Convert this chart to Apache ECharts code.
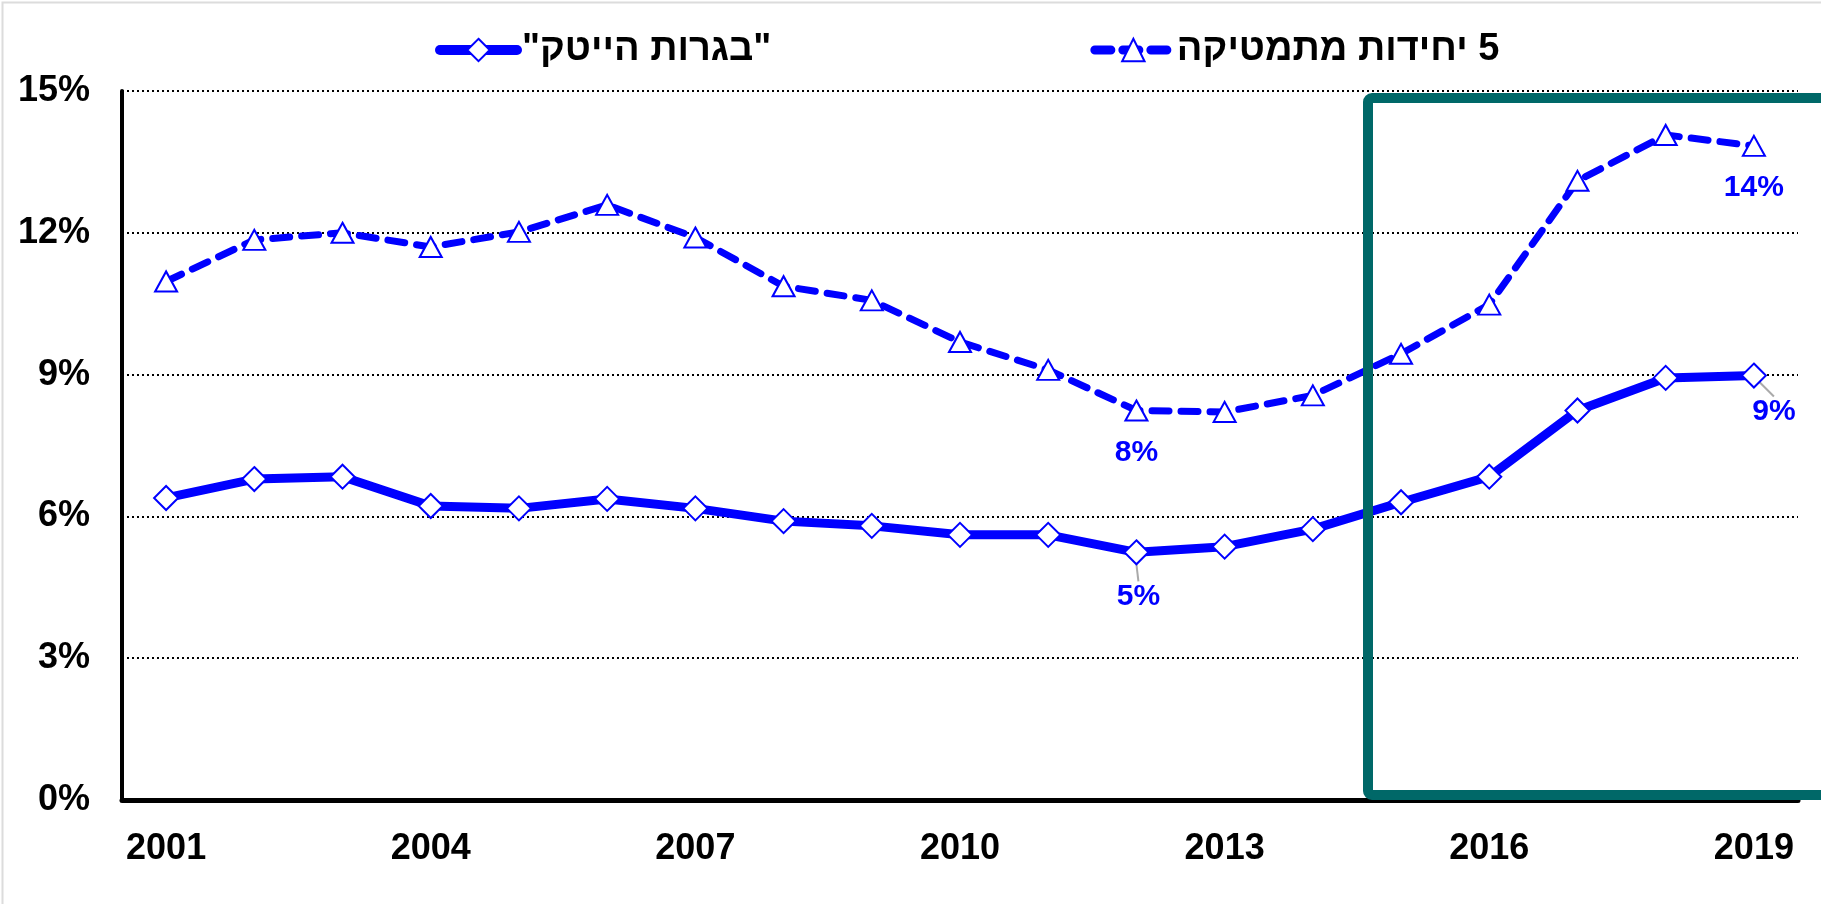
<!DOCTYPE html>
<html>
<head>
<meta charset="utf-8">
<script src="https://cdn.jsdelivr.net/npm/echarts@6/dist/echarts.min.js"></script>
<style>
  html, body { margin: 0; padding: 0; background: #fff; }
  #chart { width: 1821px; height: 904px; }
</style>
</head>
<body>
<div id="chart"></div>
<script>
  const years = ['2001', '2002', '2003', '2004', '2005', '2006', '2007', '2008', '2009', '2010',
    '2011', '2012', '2013', '2014', '2015', '2016', '2017', '2018', '2019'];
  // "בגרות הייטק" (solid, diamonds)
  const hitech = [6.39, 6.79, 6.84, 6.22, 6.17, 6.37, 6.17, 5.9, 5.8, 5.61,
    5.61, 5.24, 5.36, 5.73, 6.3, 6.84, 8.24, 8.93, 8.98];
  // 5 יחידות מתמטיקה (dashed, triangles)
  const math5 = [10.97, 11.85, 12.0, 11.7, 12.02, 12.59, 11.9, 10.87, 10.57, 9.69,
    9.1, 8.24, 8.21, 8.56, 9.44, 10.48, 13.1, 14.07, 13.84];
  const yTicks = [0, 3, 6, 9, 12, 15];
  // labelled points (by year)
  const hitechLabels = { '2012': '5%', '2019': '9%' };
  const mathLabels = { '2012': '8%', '2019': '14%' };

  const nameHitech = '\u202B"בגרות הייטק"\u202C';
  const nameMath = '\u202B5 יחידות מתמטיקה\u202C';

  const blue = '#0000FF';
  const font = 'Arial, "Liberation Sans", sans-serif';

  const labelStyle = {
    color: blue,
    fontSize: 30,
    fontWeight: 'bold',
    fontFamily: font
  };

  const toData = function (values, labels) {
    return values.map((v, i) => {
      const txt = labels[years[i]];
      if (!txt) {
        return v;
      }
      return { value: v, label: Object.assign({ show: true, formatter: txt }, labelStyle) };
    });
  };

  const chart = echarts.init(document.getElementById('chart'));

  const option = {
    backgroundColor: '#fff',
    animation: false,
    grid: {
      left: 122,
      right: 23,
      top: 91,
      bottom: 104
    },
    legend: {
      left: 430,
      top: 26,
      itemWidth: 77,
      itemHeight: 28,
      itemGap: 319,
      textStyle: {
        color: '#000',
        fontSize: 38,
        fontWeight: 'bold',
        fontFamily: font
      },
      data: [
        { name: nameHitech, lineStyle: { width: 10, cap: 'round' } },
        { name: nameMath, lineStyle: { width: 9, type: [16, 12], cap: 'round' } }
      ]
    },
    xAxis: {
      type: 'category',
      data: years,
      boundaryGap: true,
      axisLine: { lineStyle: { color: '#000', width: 5 } },
      axisTick: { show: false },
      axisLabel: {
        interval: 2,
        margin: 31,
        color: '#000',
        fontSize: 36,
        fontWeight: 'bold',
        fontFamily: font
      },
      splitLine: { show: false }
    },
    yAxis: {
      type: 'value',
      min: yTicks[0],
      max: yTicks[yTicks.length - 1],
      interval: 3,
      axisLine: { show: true, lineStyle: { color: '#000', width: 4 } },
      axisTick: { show: false },
      axisLabel: {
        margin: 32,
        formatter: '{value}%',
        color: '#000',
        fontSize: 36,
        fontWeight: 'bold',
        fontFamily: font
      },
      splitLine: {
        show: true,
        lineStyle: { color: '#000', width: 2, type: [2, 3] }
      }
    },
    series: [
      {
        name: nameHitech,
        type: 'line',
        data: toData(hitech, hitechLabels),
        symbol: 'diamond',
        symbolSize: 24,
        lineStyle: { color: blue, width: 9 },
        itemStyle: { color: '#fff', borderColor: blue, borderWidth: 2 },
        label: { show: false, position: 'inside' },
        labelLine: { show: true, lineStyle: { color: '#aaa', width: 2 } },
        labelLayout: function (p) {
          if (p.dataIndex === 11) return { dx: 2, dy: 44 };
          if (p.dataIndex === 18) return { dx: 20, dy: 36 };
          return {};
        },
        z: 3
      },
      {
        name: nameMath,
        type: 'line',
        data: toData(math5, mathLabels),
        symbol: 'triangle',
        symbolSize: [22, 20],
        lineStyle: { color: blue, width: 7, type: [17, 12], cap: 'round' },
        itemStyle: { color: '#fff', borderColor: blue, borderWidth: 2 },
        label: { show: false, position: 'bottom', distance: 16 },
        z: 2
      }
    ],
    graphic: [
      {
        type: 'rect',
        left: 0,
        top: 0,
        shape: { x: 1, y: 1, width: 1830, height: 920 },
        style: { fill: 'none', stroke: '#dcdcdc', lineWidth: 2 },
        silent: true
      },
      {
        type: 'rect',
        shape: { x: 1368, y: 98, width: 520, height: 697, r: 4 },
        style: { fill: 'none', stroke: '#006868', lineWidth: 10, lineJoin: 'round' },
        z: 10,
        silent: true
      }
    ]
  };
  chart.setOption(option);
</script>
</body>
</html>
